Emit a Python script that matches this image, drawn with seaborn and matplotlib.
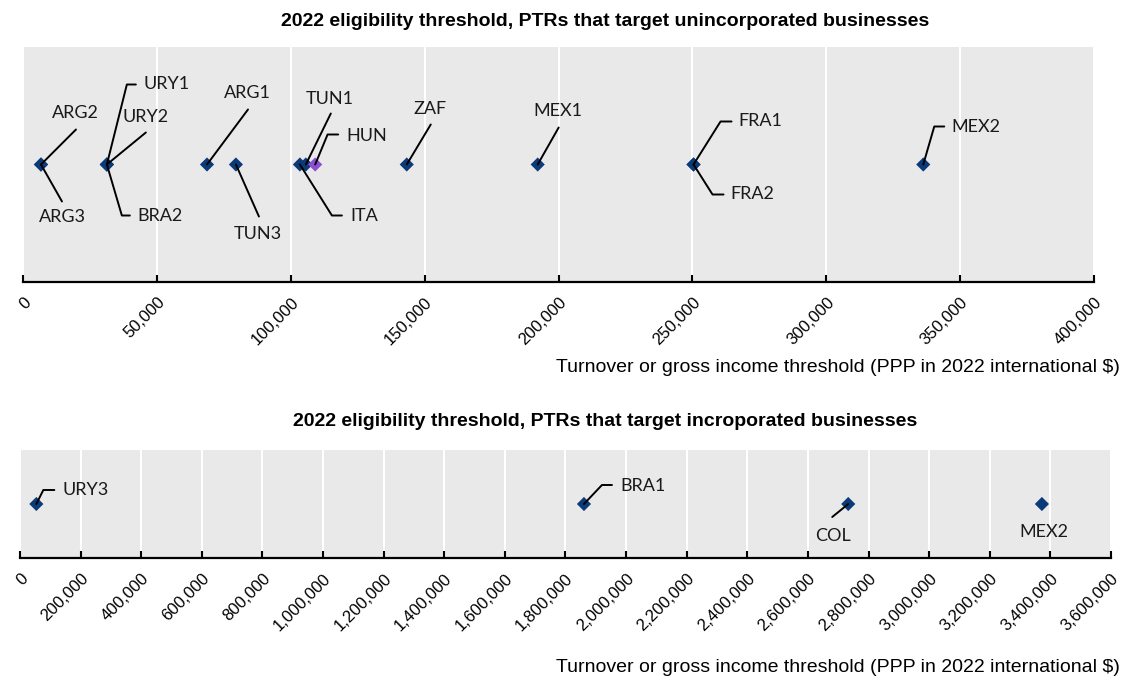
import numpy as np
import pandas as pd
import seaborn as sns
import matplotlib.pyplot as plt
from matplotlib.ticker import FuncFormatter

# Данные: пороги (PPP, международные $ 2022)
top_labels = ['ARG2', 'ARG3', 'URY1', 'URY2', 'BRA2', 'ARG1', 'TUN3', 'ITA',
              'TUN1', 'HUN', 'ZAF', 'MEX1', 'FRA1', 'FRA2', 'MEX2']
top_values = [6700, 6700, 31300, 31300, 31300, 68700, 79500, 103400,
              105600, 109100, 143300, 192200, 250400, 250400, 336200]
top_groups = ['main', 'main', 'main', 'main', 'main', 'main', 'main', 'main',
              'main', 'HUN', 'main', 'main', 'main', 'main', 'main']

bottom_labels = ['URY3', 'BRA1', 'COL', 'MEX2']
bottom_values = [54000, 1861000, 2733000, 3372000]
bottom_groups = ['main', 'main', 'main', 'main']

top_ticks = list(range(0, 400001, 50000))
bottom_ticks = list(range(0, 3600001, 200000))

top_title = '2022 eligibility threshold, PTRs that target unincorporated businesses'
bottom_title = '2022 eligibility threshold, PTRs that target incroporated businesses'
x_title = 'Turnover or gross income threshold (PPP in 2022 international $)'

# расположение подписей (смещения в пикселях от точки)
# (тип линии, точки линии, позиция текста, выравнивание)
top_layout = {
    'ARG2': ('straight', [(35, 35)], (34, 51), 'center'),
    'ARG3': ('straight', [(21, -37)], (21, -53), 'center'),
    'URY1': ('elbow', [(20, 80), (29, 80)], (37, 80), 'left'),
    'URY2': ('straight', [(39, 32)], (39, 47), 'center'),
    'BRA2': ('elbow', [(15, -51), (23, -51)], (31, -52), 'left'),
    'ARG1': ('straight', [(41, 55)], (40, 71), 'center'),
    'TUN3': ('straight', [(23, -52)], (22, -70), 'center'),
    'TUN1': ('straight', [(25, 51)], (24, 65), 'center'),
    'HUN': ('elbow', [(12, 29), (23, 30)], (31, 28), 'left'),
    'ITA': ('elbow', [(32, -51), (42, -51)], (50, -52), 'left'),
    'ZAF': ('straight', [(24, 40)], (23, 55), 'center'),
    'MEX1': ('straight', [(21, 37)], (20, 53), 'center'),
    'FRA1': ('elbow', [(27, 43), (38, 43)], (45, 43), 'left'),
    'FRA2': ('elbow', [(19, -30), (30, -30)], (37, -30), 'left'),
    'MEX2': ('elbow', [(11, 38), (21, 38)], (28, 37), 'left'),
}
bottom_layout = {
    'URY3': ('elbow', [(7, 14), (18, 14)], (26, 14), 'left'),
    'BRA1': ('elbow', [(18, 19), (28, 19)], (36, 18), 'left'),
    'COL': ('straight', [(-16, -13)], (-15, -32), 'center'),
    'MEX2': ('none', [], (2, -28), 'center'),
}

navy = '#0b3a78'
purple = '#8c4fd0'
label_font = ['Lato', 'DejaVu Sans']
narrow_font = ['Liberation Sans Narrow', 'Liberation Sans', 'DejaVu Sans']

sns.set_theme(style='darkgrid', rc={'axes.facecolor': '#e9e9e9', 'grid.color': 'white',
                                    'grid.linewidth': 1.5, 'text.color': 'black',
                                    'xtick.color': 'black'})
plt.rcParams['font.family'] = narrow_font

fig = plt.figure(figsize=(11.41, 6.82), dpi=100)
ax_top = fig.add_axes([0.0202, 0.5865, 0.9387, 0.3446])
ax_bot = fig.add_axes([0.0175, 0.1818, 0.9562, 0.1584])


def draw_panel(ax, labels, values, groups, layout, ticks):
    df = pd.DataFrame({'value': values, 'row': 0, 'group': groups, 'name': labels})
    sns.scatterplot(data=df, x='value', y='row', hue='group',
                    palette={'main': navy, 'HUN': purple}, marker='D', s=52,
                    linewidth=0, legend=False, ax=ax, zorder=2)
    ax.set_xlim(ticks[0], ticks[-1])
    ax.set_ylim(-1, 1)
    ax.set_xticks(ticks)
    ax.xaxis.set_major_formatter(FuncFormatter(lambda v, p: f'{int(v):,}'))
    ax.set_yticks([])
    ax.set_xlabel('')
    ax.set_ylabel('')
    ax.grid(axis='y', visible=False)
    ax.grid(axis='x', color='white', linewidth=1.5)
    for side in ['left', 'top', 'right']:
        ax.spines[side].set_visible(False)
    ax.spines['bottom'].set_visible(True)
    ax.spines['bottom'].set_color('black')
    ax.spines['bottom'].set_linewidth(1.6)
    ax.tick_params(axis='x', direction='in', length=5, width=1.5, color='black',
                   labelcolor='black', bottom=True, pad=9, labelsize=12)
    for lab in ax.get_xticklabels():
        lab.set_rotation(45)
        lab.set_ha('right')
        lab.set_rotation_mode('anchor')

    # подписи с выносками
    for _, r in df.iterrows():
        kind, pts, txt, ha = layout[r['name']]
        if kind == 'straight':
            ax.annotate('', xy=(r['value'], 0), xytext=pts[0], textcoords='offset pixels',
                        arrowprops=dict(arrowstyle='-', color='black', lw=1.4,
                                        shrinkA=0, shrinkB=0))
        elif kind == 'elbow':
            (dx1, dy1), end = pts
            ang = np.degrees(np.arctan2(dy1, dx1))
            ax.annotate('', xy=(r['value'], 0), xytext=end, textcoords='offset pixels',
                        arrowprops=dict(arrowstyle='-', color='black', lw=1.4,
                                        shrinkA=0, shrinkB=0,
                                        connectionstyle=f'angle,angleA=0,angleB={ang},rad=0'))
        ax.annotate(r['name'], xy=(r['value'], 0), xytext=txt, textcoords='offset pixels',
                    ha=ha, va='center', fontsize=13, family=label_font, color='#1a1a1a')


draw_panel(ax_top, top_labels, top_values, top_groups, top_layout, top_ticks)
draw_panel(ax_bot, bottom_labels, bottom_values, bottom_groups, bottom_layout, bottom_ticks)

fig.text(0.53, 1 - 22 / 682, top_title, ha='center', va='center', fontsize=14, fontweight='bold')
fig.text(0.53, 1 - 422 / 682, bottom_title, ha='center', va='center', fontsize=14, fontweight='bold')
fig.text(1120 / 1141, 1 - 368 / 682, x_title, ha='right', va='center', fontsize=14)
fig.text(1120 / 1141, 1 - 668 / 682, x_title, ha='right', va='center', fontsize=14)

fig.savefig('out.png', dpi=100)
